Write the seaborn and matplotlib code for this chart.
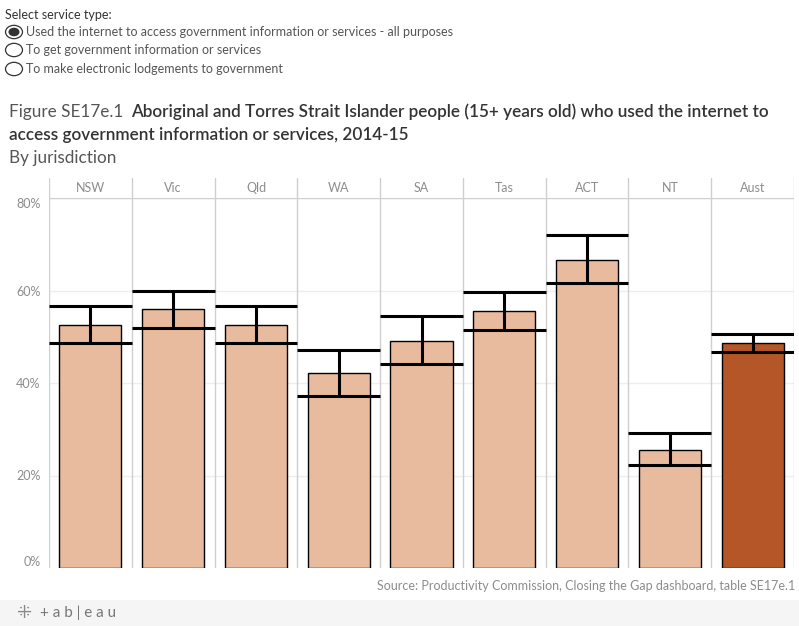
import numpy as np
import pandas as pd
import seaborn as sns
import matplotlib.pyplot as plt
from matplotlib.patches import Rectangle, Circle

# data
jurisdictions = ['NSW', 'Vic', 'Qld', 'WA', 'SA', 'Tas', 'ACT', 'NT', 'Aust']
pct_used = [52.6, 56.0, 52.6, 42.2, 49.1, 55.6, 66.7, 25.5, 48.6]
ci_upper = [56.7, 60.0, 56.7, 47.2, 54.5, 59.7, 71.9, 29.2, 50.7]
ci_lower = [48.7, 52.0, 48.7, 37.2, 44.2, 51.5, 61.7, 22.3, 46.8]
y_ticks = [0, 20, 40, 60, 80]
options = ['Used the internet to access government information or services - all purposes',
           'To get government information or services',
           'To make electronic lodgements to government']

bar_colors = ['#E9BB9E'] * 8 + ['#B45628']

sns.set_theme(style='white')
plt.rcParams['font.family'] = ['Lato', 'DejaVu Sans']

W, H = 799, 626
fig = plt.figure(figsize=(W / 100, H / 100), dpi=100)

def fx(px):
    return px / W

def fy(py):
    return 1 - py / H

df = pd.DataFrame({'Jurisdiction': jurisdictions, 'Pct': pct_used})
n = len(jurisdictions)
xs = np.arange(n)

# main pane
ax = fig.add_axes([fx(49), fy(568), fx(794) - fx(49), fy(198) - fy(568)])
sns.barplot(data=df, x='Jurisdiction', y='Pct', hue='Jurisdiction', palette=bar_colors,
            saturation=1, width=0.75, edgecolor='black', linewidth=1, legend=False,
            ax=ax, zorder=3)
ax.hlines(ci_upper, xs - 0.5, xs + 0.5, color='black', lw=2.2, zorder=4)
ax.hlines(ci_lower, xs - 0.5, xs + 0.5, color='black', lw=2.2, zorder=4)
ax.vlines(xs, ci_lower, ci_upper, color='black', lw=2.2, zorder=4)
for b in np.arange(-0.5, n, 1.0):
    ax.axvline(b, color='#CFCFCF', lw=1, zorder=1)
for t in [20, 40, 60]:
    ax.axhline(t, color='#EEEEEE', lw=1, zorder=0)
ax.set_xlim(-0.5, n - 0.5)
ax.set_ylim(0, 80)
ax.set_yticks(y_ticks)
ax.set_yticklabels([f'{t}%' for t in y_ticks], color='#8C8C8C', fontsize=9)
ax.tick_params(axis='y', length=0, pad=6)
ax.set_xticks([])
ax.set_xlabel('')
ax.set_ylabel('')
for s in ax.spines.values():
    s.set_visible(False)
ax.axhline(80, color='#CFCFCF', lw=1, zorder=1)
lbls = ax.get_yticklabels()
lbls[0].set_va('bottom')
lbls[-1].set_va('top')

# header row with jurisdiction names
hx = fig.add_axes([fx(49), fy(198), fx(794) - fx(49), fy(178) - fy(198)])
hx.set_xlim(-0.5, n - 0.5)
hx.set_ylim(0, 1)
hx.axis('off')
for b in np.arange(-0.5, n, 1.0):
    hx.axvline(b, color='#CFCFCF', lw=1)
for i, j in enumerate(jurisdictions):
    hx.text(i, 0.5, j, ha='center', va='center', color='#8C8C8C', fontsize=9)

# parameter control
fig.text(fx(5), fy(15), 'Select service type:', fontsize=9, color='#333333', va='center')
for k, opt in enumerate(options):
    cy = [32, 50, 69][k]
    fig.patches.append(Circle((fx(14), fy(cy)), 8.5 / W, transform=fig.transFigure,
                              facecolor='white', edgecolor='#333333', lw=0.9))
    if k == 0:
        fig.patches.append(Circle((fx(14), fy(cy)), 5.5 / W, transform=fig.transFigure,
                                  facecolor='#333333', edgecolor='none'))
    fig.text(fx(26), fy(cy), opt, fontsize=9, color='#555555', va='center')

# titles
renderer = fig.canvas.get_renderer()
t1 = fig.text(fx(9), fy(112), 'Figure SE17e.1 ', fontsize=12.3, color='#555555', va='center')
bb = t1.get_window_extent(renderer)
fig.text(bb.x1 / W + fx(3), fy(112),
         'Aboriginal and Torres Strait Islander people (15+ years old) who used the internet to',
         fontsize=12.3, color='#333333', va='center', fontweight='semibold')
fig.text(fx(9), fy(135), 'access government information or services, 2014-15',
         fontsize=12.3, color='#333333', va='center', fontweight='semibold')
fig.text(fx(9), fy(158), 'By jurisdiction', fontsize=12.3, color='#555555', va='center')

# source and footer
fig.text(fx(795), fy(586), 'Source: Productivity Commission, Closing the Gap dashboard, table SE17e.1',
         fontsize=9, color='#8C8C8C', ha='right', va='center')
fig.patches.append(Rectangle((0, 0), 1, fy(600), transform=fig.transFigure,
                             facecolor='#F5F5F5', edgecolor='none', zorder=0))
fig.text(fx(17), fy(613), '⁜', fontsize=13, color='#888888', va='center')
fig.text(fx(40), fy(613), '+ a b | e a u', fontsize=11, color='#777777', va='center')

fig.savefig('out.png', dpi=100)
